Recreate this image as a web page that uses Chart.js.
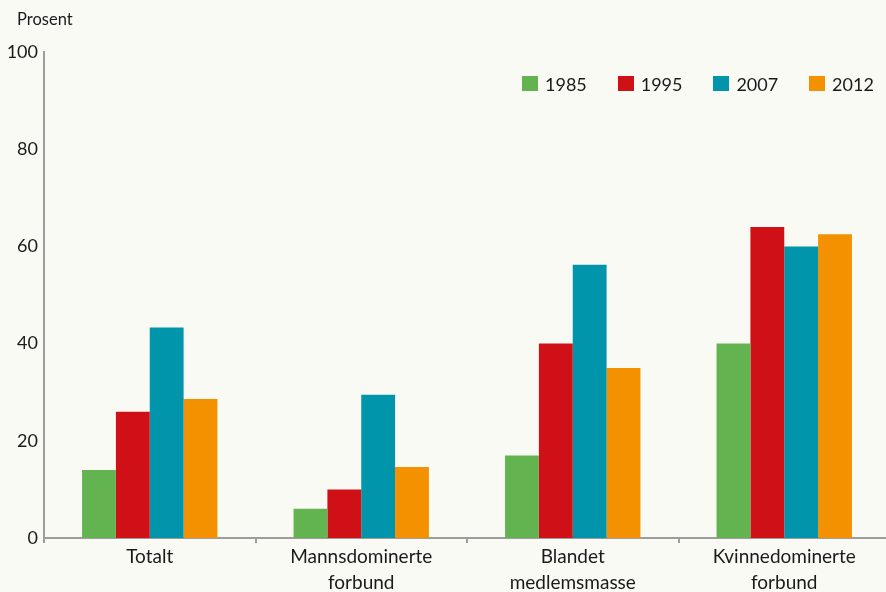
<!DOCTYPE html>
<html lang="no">
<head>
<meta charset="utf-8">
<title>Prosent</title>
<script src="https://cdn.jsdelivr.net/npm/chart.js@4"></script>
<style>
    html, body {
        margin: 0;
        padding: 0;
        overflow: hidden;
        background: #fafaf5;
    }
    #wrap {
        position: relative;
        width: 890px;
        height: 592px;
    }
    #legend {
        position: absolute;
        top: 76px;
        left: 522px;
        display: flex;
        font-family: Lato, "Open Sans", sans-serif;
        font-size: 18px;
        color: #1a1a1a;
    }
    #legend .item {
        display: flex;
        align-items: center;
        width: 95.7px;
        height: 15px;
    }
    #legend .box {
        width: 16px;
        height: 15px;
        margin-right: 7px;
    }
</style>
</head>
<body>
<div id="wrap">
    <canvas id="unionChart"></canvas>
    <div id="legend"></div>
</div>
<script>
const categories = ['Totalt', ['Mannsdominerte', 'forbund'], ['Blandet', 'medlemsmasse'], ['Kvinnedominerte', 'forbund']];
const years = ['1985', '1995', '2007', '2012'];
const values1985 = [14, 6, 17, 40];
const values1995 = [26, 10, 40, 64];
const values2007 = [43.3, 29.5, 56.2, 60];
const values2012 = [28.6, 14.6, 35, 62.5];
const yTicks = [0, 20, 40, 60, 80, 100];

const colors = ['#63b350', '#cf1016', '#0095aa', '#f49100'];
const axisColor = '#9d9d9d';
const textColor = '#1a1a1a';
const fontFamily = 'Lato, "Open Sans", sans-serif';

// unit label above the y axis
const unitLabel = {
    id: 'unitLabel',
    afterDraw(chart) {
        const ctx = chart.ctx;
        ctx.save();
        ctx.font = '16.5px ' + fontFamily;
        ctx.fillStyle = textColor;
        ctx.textAlign = 'left';
        ctx.textBaseline = 'middle';
        ctx.fillText('Prosent', 17, 20);
        ctx.restore();
    }
};

// legend sits inside the plot, top right, as a plain html row
function buildLegend() {
    const legend = document.getElementById('legend');
    legend.innerHTML = '';
    years.forEach((year, i) => {
        const item = document.createElement('div');
        item.className = 'item';
        item.innerHTML = `<span class="box" style="background:${colors[i]}"></span><span>${year}</span>`;
        legend.appendChild(item);
    });
}

const seriesValues = [values1985, values1995, values2007, values2012];

const ctx = document.getElementById('unionChart').getContext('2d');
new Chart(ctx, {
    type: 'bar',
    data: {
        labels: categories,
        datasets: years.map((year, i) => ({
            label: year,
            data: seriesValues[i],
            backgroundColor: colors[i],
            borderWidth: 0,
            categoryPercentage: 0.64,
            barPercentage: 1.0
        }))
    },
    options: {
        responsive: true,
        maintainAspectRatio: false,
        animation: false,
        layout: {
            padding: { top: 52, left: 0, right: 0, bottom: 0 }
        },
        plugins: {
            legend: { display: false },
            title: { display: false },
            tooltip: { enabled: false }
        },
        scales: {
            x: {
                offset: true,
                grid: {
                    offset: true,
                    drawOnChartArea: false,
                    drawTicks: true,
                    tickLength: 5,
                    color: axisColor,
                    lineWidth: 2
                },
                border: { display: true, color: axisColor, width: 2 },
                ticks: {
                    color: textColor,
                    font: { family: fontFamily, size: 19, lineHeight: 1.37 },
                    padding: 1,
                    autoSkip: false,
                    maxRotation: 0
                },
                afterFit(scale) {
                    scale.height = 54;
                }
            },
            y: {
                min: 0,
                max: 100,
                grid: { display: false, drawTicks: false },
                border: { display: true, color: axisColor, width: 2 },
                ticks: {
                    stepSize: 20,
                    padding: 6,
                    color: textColor,
                    font: { family: fontFamily, size: 18 },
                    callback: (value) => yTicks.includes(value) ? value : ''
                },
                afterFit(scale) {
                    scale.width = 44;
                }
            }
        }
    },
    plugins: [unitLabel]
});

buildLegend();
</script>
</body>
</html>
